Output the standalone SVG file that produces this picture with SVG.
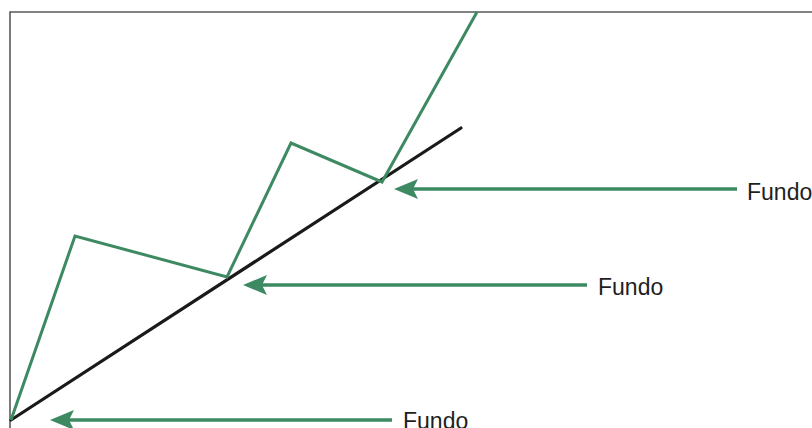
<svg xmlns="http://www.w3.org/2000/svg" width="812" height="428" viewBox="0 0 812 428">
  <style>
    .frame { fill: none; stroke: #5a5a5a; stroke-width: 1.6; }
    .trend { fill: none; stroke: #1a1a1a; stroke-width: 3.2; stroke-linecap: round; }
    .price { fill: none; stroke: #3d8a62; stroke-width: 3; stroke-linejoin: miter; }
    .conn { fill: none; stroke: #3d8a62; stroke-width: 3.5; }
    .head { fill: #3d8a62; }
    .lbl { font-family: "Liberation Sans", Arial, sans-serif; font-size: 23px; fill: #1e1e1e; }
  </style>
  <defs>
    <path id="ah" class="head" d="M0,0 L24,-10 L19,0 L24,10 Z"/>
  </defs>
  <rect width="812" height="428" fill="#ffffff"/>
  <g id="chart">
    <path class="frame" d="M10,440 L10,12 L830,12"/>
    <line class="trend" x1="11" y1="420" x2="461" y2="128"/>
    <polyline class="price" points="11,420 75,236 227,277 291,143 382,182 477,12"/>
  </g>
  <g id="connectors">
    <line class="conn" x1="410" y1="189" x2="737" y2="189"/>
    <use href="#ah" x="394" y="189"/>
    <line class="conn" x1="259" y1="285" x2="587" y2="285"/>
    <use href="#ah" x="243" y="285"/>
    <line class="conn" x1="66" y1="420" x2="392" y2="420"/>
    <use href="#ah" x="50" y="420"/>
  </g>
  <g id="label-top">
    <text class="lbl" x="747" y="200">Fundo</text>
  </g>
  <g id="label-mid">
    <text class="lbl" x="598" y="295">Fundo</text>
  </g>
  <g id="label-bottom">
    <text class="lbl" x="403" y="429">Fundo</text>
  </g>
</svg>
